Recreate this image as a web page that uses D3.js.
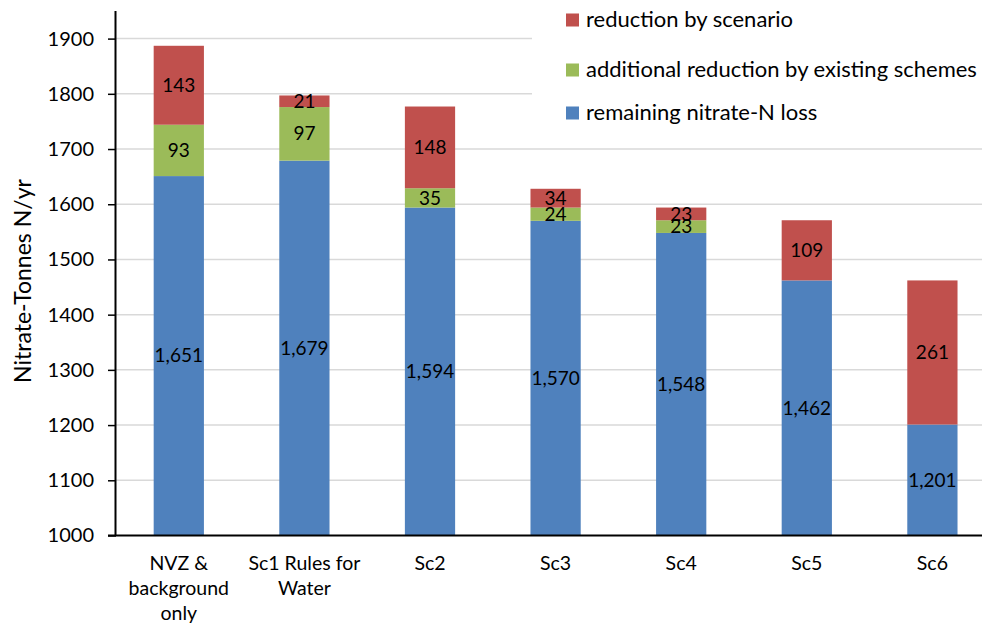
<!DOCTYPE html>
<html>
<head>
<meta charset="utf-8">
<script src="https://cdn.jsdelivr.net/npm/d3@7"></script>
<style>
  html, body { margin: 0; padding: 0; background: #fff; }
  svg { display: block; font-family: Lato, "Open Sans", sans-serif; }
</style>
</head>
<body>
<svg id="chart" width="982" height="626"></svg>
<script>
// Scenario categories (multi-line labels split on "\n")
const categories = [
  "NVZ &\nbackground\nonly",
  "Sc1 Rules for\nWater",
  "Sc2", "Sc3", "Sc4", "Sc5", "Sc6"
];
// Stacked series values, tonnes nitrate-N per year
const remaining = [1651, 1679, 1594, 1570, 1548, 1462, 1201];
const additional = [93, 97, 35, 24, 23, 0, 0];
const scenarioReduction = [143, 21, 148, 34, 23, 109, 261];

const seriesNames = ["remaining nitrate-N loss", "additional reduction by existing schemes", "reduction by scenario"];
const seriesColors = ["#4F81BD", "#9BBB59", "#C0504D"];
const yTicks = [1000, 1100, 1200, 1300, 1400, 1500, 1600, 1700, 1800, 1900];
const yMin = 1000, yMax = 1950;

(function () {
const svg = d3.select("#chart");
const plotLeft = 116, plotTop = 11, plotBottom = 535.5;
const plotRight = plotLeft + 7 * 125.6;

const x = d3.scaleBand().domain(categories).range([plotLeft, plotRight]).paddingInner(0.6).paddingOuter(0.3);
const y = d3.scaleLinear().domain([yMin, yMax]).range([plotBottom, plotTop]);

// Gridlines
svg.append("g").selectAll("line").data(yTicks.slice(1)).join("line")
  .attr("x1", plotLeft).attr("x2", 982)
  .attr("y1", d => y(d)).attr("y2", d => y(d))
  .attr("stroke", "#D9D9D9").attr("stroke-width", 1.5);

// Stack data
const rows = categories.map((c, i) => ({ cat: c, s0: remaining[i], s1: additional[i], s2: scenarioReduction[i] }));
const layers = d3.stack().keys(["s0", "s1", "s2"])(rows);

const fmt = d3.format(",");
layers.forEach((layer, k) => {
  const g = svg.append("g");
  layer.forEach(seg => {
    const base = k === 0 ? yMin : seg[0];
    const v = seg[1] - seg[0];
    if (v <= 0) return;
    g.append("rect")
      .attr("x", x(seg.data.cat))
      .attr("width", x.bandwidth())
      .attr("y", y(seg[1]))
      .attr("height", y(base) - y(seg[1]))
      .attr("fill", seriesColors[k]);
  });
});
// Segment value labels
layers.forEach((layer, k) => {
  layer.forEach(seg => {
    const base = k === 0 ? yMin : seg[0];
    const v = seg[1] - seg[0];
    if (v <= 0) return;
    svg.append("text")
      .attr("x", x(seg.data.cat) + x.bandwidth() / 2)
      .attr("y", (y(base) + y(seg[1])) / 2)
      .attr("dy", "0.35em")
      .attr("text-anchor", "middle")
      .attr("font-size", 19)
      .attr("fill", "#000")
      .text(fmt(v));
  });
});

// Legend box covers the gridlines behind it
svg.append("rect").attr("x", 532).attr("y", 0).attr("width", 450).attr("height", 135).attr("fill", "#fff");

// Y axis
const yAxis = d3.axisLeft(y).tickValues(yTicks).tickSize(8).tickPadding(14).tickFormat(d3.format("d"));
const ya = svg.append("g").attr("transform", `translate(${plotLeft},0)`).call(yAxis);
ya.select(".domain").attr("d", `M-0.5,${plotTop}V${plotBottom}`).attr("stroke", "#000").attr("stroke-width", 2);
ya.selectAll(".tick line").attr("stroke", "#000").attr("stroke-width", 1.5);
ya.selectAll(".tick text").attr("font-size", 20).attr("fill", "#000").style("font-family", "Lato, sans-serif");

// X axis baseline
svg.append("line").attr("x1", plotLeft - 8).attr("x2", 982)
  .attr("y1", plotBottom).attr("y2", plotBottom)
  .attr("stroke", "#000").attr("stroke-width", 2);

// Category labels
const xl = svg.append("g");
categories.forEach(c => {
  const cx = x(c) + x.bandwidth() / 2;
  const t = xl.append("text")
    .attr("x", cx)
    .attr("y", 570)
    .attr("text-anchor", "middle")
    .attr("font-size", 19.5)
    .attr("fill", "#000");
  c.split("\n").forEach((line, i) => {
    t.append("tspan").attr("x", cx).attr("dy", i === 0 ? 0 : 25).text(line);
  });
});

// Y axis title
svg.append("text")
  .attr("transform", "translate(31,281) rotate(-90)")
  .attr("text-anchor", "middle")
  .attr("font-size", 23)
  .attr("fill", "#000")
  .text("Nitrate-Tonnes N/yr");

// Legend (top entry is the top of the stack)
const legendY = [20, 70, 113];
[2, 1, 0].forEach((k, i) => {
  svg.append("rect").attr("x", 566).attr("y", legendY[i] - 6.5).attr("width", 13).attr("height", 13).attr("fill", seriesColors[k]);
  svg.append("text").attr("x", 586).attr("y", legendY[i]).attr("dy", "0.33em")
    .attr("font-size", 22).attr("fill", "#000").text(seriesNames[k]);
});
})();
</script>
</body>
</html>
